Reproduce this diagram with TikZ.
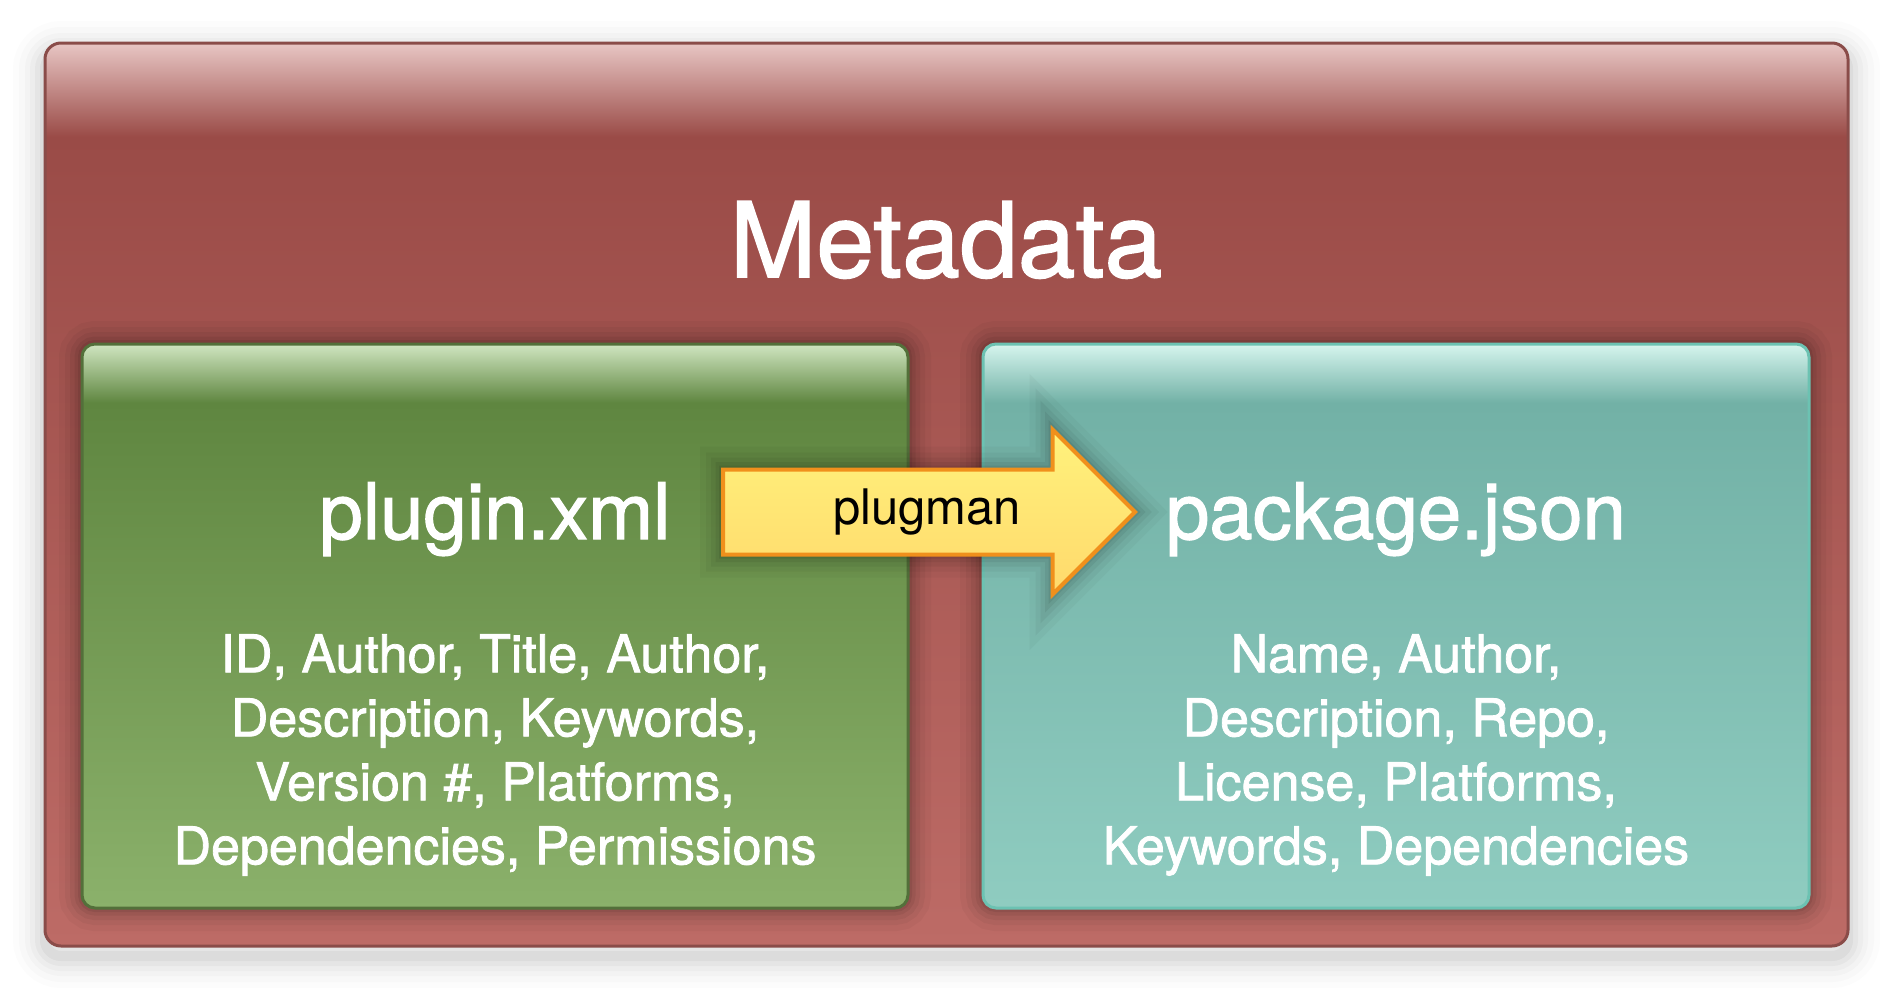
\documentclass[tikz,border=0pt]{standalone}
\usepackage{fontspec}
\setmainfont{TeX Gyre Heros}
\newfontfamily\medfont{TeX Gyre Heros}[FakeBold=1.5]
\usetikzlibrary{shapes.arrows}
\definecolor{redtop}{HTML}{E8C6C4}
\definecolor{redmid}{HTML}{9A4B47}
\definecolor{redbot}{HTML}{BD6B66}
\definecolor{redline}{HTML}{8A4C49}
\definecolor{greentop}{HTML}{D0E6C1}
\definecolor{greenmid}{HTML}{5F8640}
\definecolor{greenbot}{HTML}{8BB16B}
\definecolor{greenline}{HTML}{53703A}
\definecolor{tealtop}{HTML}{D6F5EE}
\definecolor{tealmid}{HTML}{72B1A6}
\definecolor{tealbot}{HTML}{8FCCC0}
\definecolor{tealline}{HTML}{6CC2B2}
\definecolor{argtop}{HTML}{FFF27C}
\definecolor{argbot}{HTML}{FFD96C}
\definecolor{argline}{HTML}{F0901C}
\pgfdeclareverticalshading{redgloss}{100bp}{color(0bp)=(redbot); color(25bp)=(redbot); color(69.8bp)=(redmid); color(75bp)=(redtop); color(100bp)=(redtop)}
\pgfdeclareverticalshading{greengloss}{100bp}{color(0bp)=(greenbot); color(25bp)=(greenbot); color(69.8bp)=(greenmid); color(75bp)=(greentop); color(100bp)=(greentop)}
\pgfdeclareverticalshading{tealgloss}{100bp}{color(0bp)=(tealbot); color(25bp)=(tealbot); color(69.8bp)=(tealmid); color(75bp)=(tealtop); color(100bp)=(tealtop)}
\tikzset{
  softshadow/.style={
    preaction={draw=black, opacity=0.012, line width=64pt, transform canvas={yshift=-10pt}},
    preaction={draw=black, opacity=0.016, line width=52pt, transform canvas={yshift=-10pt}},
    preaction={draw=black, opacity=0.02, line width=40pt, transform canvas={yshift=-10pt}},
    preaction={draw=black, opacity=0.025, line width=30pt, transform canvas={yshift=-10pt}},
    preaction={draw=black, opacity=0.03, line width=20pt, transform canvas={yshift=-10pt}},
    preaction={draw=black, opacity=0.04, line width=10pt, transform canvas={yshift=-10pt}}},
  glow/.style={
    preaction={draw=black, opacity=0.03, line width=46pt},
    preaction={draw=black, opacity=0.04, line width=34pt},
    preaction={draw=black, opacity=0.05, line width=24pt},
    preaction={draw=black, opacity=0.06, line width=15pt},
    preaction={draw=black, opacity=0.07, line width=8pt}},
  frame/.style={softshadow, draw=redline, line width=3pt, rounded corners=16pt, shading=redgloss,
    minimum width=1803pt, minimum height=903pt, inner sep=0pt},
  panel/.style={glow, draw=#1line, line width=3pt, rounded corners=13pt, shading=#1gloss,
    minimum width=826pt, minimum height=564pt, inner sep=0pt},
  shiftarrow/.style={glow, single arrow, single arrow head extend=40pt, minimum height=412pt,
    draw=argline, line width=4pt, top color=argtop, bottom color=argbot,
    text height=36pt, text depth=11pt, inner ysep=17pt, inner xsep=0pt},
  arrowtext/.style={font=\fontsize{49}{58}\selectfont},
  bigtitle/.style={text=white, font=\medfont\fontsize{104}{120}\selectfont},
  paneltitle/.style={text=white, font=\medfont\fontsize{78}{90}\selectfont},
  body/.style={text=white, align=center, font=\medfont\fontsize{52}{64}\selectfont},
}

\begin{document}
\begin{tikzpicture}[x=1pt, y=-1pt]
  \useasboundingbox (0,0) rectangle (1891,991);
  \fill[white] (0,0) rectangle (1891,991);
  \node[frame] (meta) at (946.5,494.5) {};
  \node[bigtitle, anchor=base] (title) at (946,277) {Metadata};
  \foreach \x/\n/\c/\t/\w in {495/xml/green/{plugin.xml}/{ID, Author, Title, Author,\\Description, Keywords,\\Version \#, Platforms,\\Dependencies, Permissions},
      1396/json/teal/{package.json}/{Name, Author,\\Description, Repo,\\License, Platforms,\\Keywords, Dependencies}} {
    \node[panel=\c] (\n) at (\x,626) {};
    \node[paneltitle, anchor=base] (\n-name) at (\x,539) {\t};
    \node[body] (\n-fields) at (\x,755) {\w};
  }
  \node[shiftarrow, anchor=tail] (plugman) at (721,512) {};
  \node[arrowtext] (plugman-label) at (927,512) {plugman};
\end{tikzpicture}
\end{document}
